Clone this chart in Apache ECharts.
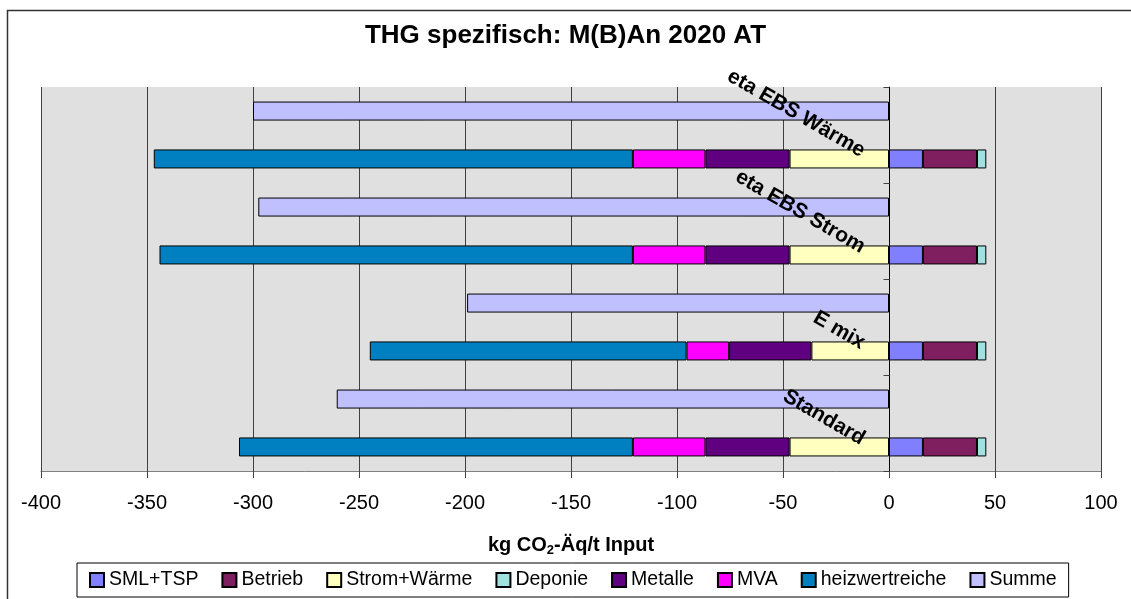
<!DOCTYPE html>
<html>
<head>
<meta charset="utf-8">
<title>THG spezifisch</title>
<script src="https://cdn.jsdelivr.net/npm/echarts@6.0.0/dist/echarts.min.js"></script>
<style>
  html, body { margin: 0; padding: 0; background: #fff; }
  #chart { width: 1131px; height: 599px; }
</style>
</head>
<body>
<div id="chart"></div>
<script>
// Kategorien von unten nach oben
var categories = ['Standard', 'E mix', 'eta EBS Strom', 'eta EBS Wärme'];

var smlTsp = [16, 16, 16, 16];
var betrieb = [25.5, 25.5, 25.5, 25.5];
var stromWaerme = [-46.9, -36.6, -46.9, -46.9];
var deponie = [4.4, 4.4, 4.4, 4.4];
var metalle = [-39.7, -38.8, -39.7, -39.7];
var mva = [-34.2, -20.1, -34.2, -34.2];
var heizwertreiche = [-185.8, -149.4, -223.3, -226];
var summe = [-260.5, -199, -297.5, -300];

var xTicks = { min: -400, max: 100, interval: 50 };

var font = 'Liberation Sans, Arial, sans-serif';

function stackSeries(name, data, color) {
    return {
        name: name,
        type: 'bar',
        stack: 'thg',
        barWidth: 19,
        barGap: '152%',
        data: data,
        itemStyle: { color: color, borderColor: '#000', borderWidth: 1 },
        emphasis: { disabled: true }
    };
}

var myChart = echarts.init(document.getElementById('chart'));

var option = {
    animation: false,
    textStyle: { fontFamily: font },
    title: {
        text: 'THG spezifisch: M(B)An 2020 AT',
        left: 'center',
        top: 18,
        textStyle: { fontSize: 26, fontWeight: 'bold', color: '#000', fontFamily: font }
    },
    graphic: [{
        type: 'rect',
        shape: { x: 7.5, y: 10.5, width: 1200, height: 700 },
        style: { fill: 'none', stroke: '#333', lineWidth: 1.5 },
        silent: true
    }],
    legend: {
        data: ['SML+TSP', 'Betrieb', 'Strom+Wärme', 'Deponie', 'Metalle', 'MVA', 'heizwertreiche', 'Summe'],
        left: 77,
        top: 563,
        padding: [7, 12],
        itemWidth: 14,
        itemHeight: 14,
        itemGap: 23,
        borderColor: '#000',
        borderWidth: 1,
        icon: 'rect',
        textStyle: { fontSize: 19.5, color: '#000', fontFamily: font }
    },
    grid: {
        left: 41,
        right: 30,
        top: 87,
        bottom: 128,
        show: true,
        backgroundColor: '#E0E0E0',
        borderWidth: 0,
        containLabel: false,
        outerBoundsMode: 'none'
    },
    xAxis: {
        type: 'value',
        min: xTicks.min,
        max: xTicks.max,
        interval: xTicks.interval,
        name: '{a|kg CO}{s|2}{a|-Äq/t Input}',
        nameLocation: 'middle',
        nameGap: 62,
        nameTextStyle: {
            rich: {
                a: { fontSize: 20, fontWeight: 'bold', color: '#000', fontFamily: font, lineHeight: 24 },
                s: { fontSize: 13, fontWeight: 'bold', color: '#000', fontFamily: font, lineHeight: 14, verticalAlign: 'bottom' }
            }
        },
        axisLine: { show: true, lineStyle: { color: '#808080', width: 1 } },
        axisTick: { show: true, length: 7, lineStyle: { color: '#404040' } },
        axisLabel: { fontSize: 20, color: '#000', margin: 22, fontFamily: font },
        splitLine: { show: true, lineStyle: { color: '#404040', width: 1 } }
    },
    yAxis: {
        type: 'category',
        data: categories,
        z: 5,
        position: 'left',
        // Achse bei x = 0 statt am linken Rand
        offset: -848.5,
        axisLine: { show: true, onZero: false, lineStyle: { color: '#000', width: 1 } },
        axisTick: { show: true, length: 6, lineStyle: { color: '#404040' } },
        axisLabel: {
            interval: 0,
            rotate: -30,
            margin: 0,
            fontSize: 21,
            fontWeight: 'bold',
            color: '#000',
            fontFamily: font,
            lineHeight: 56,
            padding: [0, 14, 0, 0],
            // leere erste Zeile schiebt den Text unter die Kategoriemitte
            formatter: function (value) {
                return '\n' + value;
            }
        },
        splitLine: { show: false }
    },
    series: [
        {
            name: 'Summe',
            type: 'bar',
            barWidth: 19,
            barGap: '152%',
            data: summe,
            itemStyle: { color: '#C0C0FF', borderColor: '#000', borderWidth: 1 },
            emphasis: { disabled: true }
        },
        stackSeries('SML+TSP', smlTsp, '#8080FF'),
        stackSeries('Betrieb', betrieb, '#7F1F5F'),
        stackSeries('Strom+Wärme', stromWaerme, '#FFFFC0'),
        stackSeries('Deponie', deponie, '#A0E0E0'),
        stackSeries('Metalle', metalle, '#600080'),
        stackSeries('MVA', mva, '#FF00FF'),
        stackSeries('heizwertreiche', heizwertreiche, '#0080C0')
    ]
};

myChart.setOption(option);
window.addEventListener('resize', function () {
    myChart.resize();
});
</script>
</body>
</html>
